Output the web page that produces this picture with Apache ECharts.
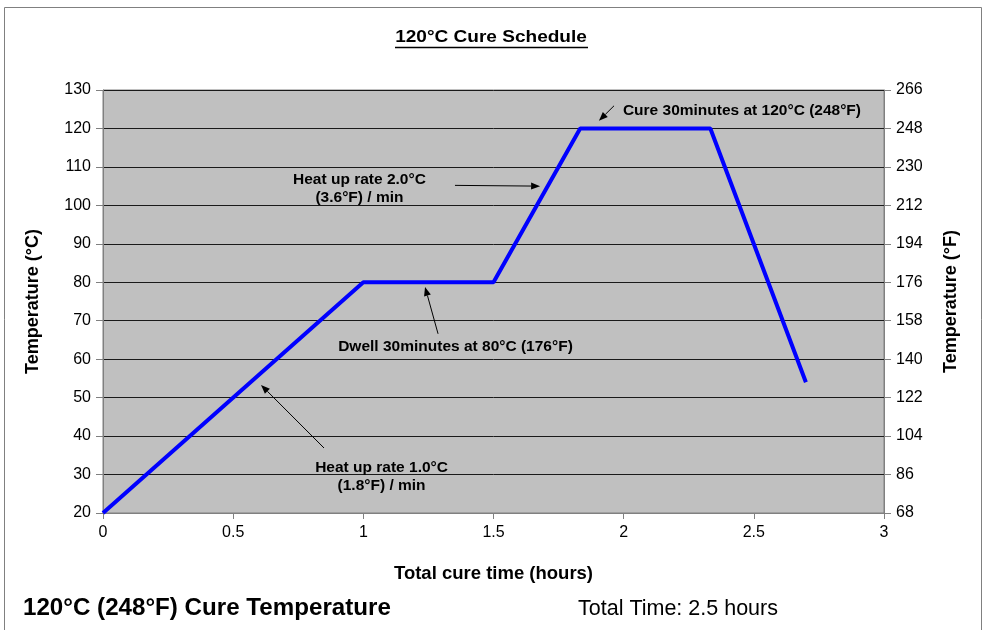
<!DOCTYPE html>
<html><head><meta charset="utf-8">
<script src="https://cdn.jsdelivr.net/npm/echarts@6/dist/echarts.min.js"></script>
<style>html,body{margin:0;padding:0;background:#fff}#c{width:987px;height:630px}</style>
</head><body><div id="c"></div>
<script>
// Data
const timeHours = [0, 1, 1.5, 1.833, 2.333, 2.7];
const tempC     = [20, 80, 80, 120, 120, 54];
const xTicks = [0, 0.5, 1, 1.5, 2, 2.5, 3];
const yTicksC = [20, 30, 40, 50, 60, 70, 80, 90, 100, 110, 120, 130];
// annotations in data units
const notes = [
  {text: 'Heat up rate 2.0°C\n(3.6°F) / min', at: [0.985, 104.4], align: 'center', from: [1.352, 105.2], to: [1.679, 105.0]},
  {text: 'Cure 30minutes at 120°C (248°F)', at: [1.997, 124.6], align: 'left', from: [1.963, 125.9], to: [1.905, 122.0]},
  {text: 'Dwell 30minutes at 80°C (176°F)', at: [1.354, 63.2], align: 'center', from: [1.287, 66.6], to: [1.237, 78.8]},
  {text: 'Heat up rate 1.0°C\n(1.8°F) / min', at: [1.070, 29.4], align: 'center', from: [0.849, 36.9], to: [0.607, 53.3]}
];
const SANS = '"Liberation Sans", Arial, sans-serif';

const chart = echarts.init(document.getElementById('c'), null, {renderer: 'canvas'});
const option = {
  animation: false,
  backgroundColor: '#fff',
  grid: {left: 103, right: 103, top: 90, bottom: 117, show: true, backgroundColor: '#C0C0C0', borderColor: '#808080', borderWidth: 1},
  xAxis: {
    type: 'value', min: 0, max: 3, interval: 0.5,
    name: 'Total cure time (hours)', nameLocation: 'middle', nameGap: 51,
    nameTextStyle: {fontFamily: SANS, fontWeight: 'bold', fontSize: 18.5, color: '#000'},
    axisLine: {show: true, lineStyle: {color: '#808080', width: 1}},
    axisTick: {show: true, length: 6, lineStyle: {color: '#808080'}},
    axisLabel: {fontFamily: SANS, fontSize: 16, color: '#000', margin: 12},
    splitLine: {show: false}
  },
  yAxis: [
    {
      type: 'value', min: 20, max: 130, interval: 10, position: 'left',
      name: 'Temperature (°C)', nameLocation: 'middle', nameGap: 61, nameRotate: 90,
      nameTextStyle: {fontFamily: SANS, fontWeight: 'bold', fontSize: 18, color: '#000'},
      axisLine: {show: true, lineStyle: {color: '#808080'}},
      axisTick: {show: true, length: 7, lineStyle: {color: '#808080'}},
      axisLabel: {fontFamily: SANS, fontSize: 16, color: '#000', margin: 12},
      splitLine: {show: true, lineStyle: {color: '#1a1a1a', width: 1}}
    },
    {
      type: 'value', min: 20, max: 130, interval: 10, position: 'right',
      name: 'Temperature (°F)', nameLocation: 'middle', nameGap: 58, nameRotate: 90,
      nameTextStyle: {fontFamily: SANS, fontWeight: 'bold', fontSize: 18, color: '#000'},
      axisLine: {show: true, lineStyle: {color: '#808080'}},
      axisTick: {show: true, length: 7, lineStyle: {color: '#808080'}},
      axisLabel: {fontFamily: SANS, fontSize: 16, color: '#000', margin: 12,
        formatter: v => String(Math.round(v * 1.8 + 32))},
      splitLine: {show: false}
    }
  ],
  series: [{
    type: 'line', yAxisIndex: 0, symbol: 'none',
    data: timeHours.map((t, i) => [t, tempC[i]]),
    lineStyle: {color: '#0000FF', width: 4}
  }]
};
chart.setOption(option);

const g = [];
// outer frame
g.push({type: 'rect', shape: {x: 4.5, y: 7.5, width: 977, height: 640}, style: {fill: 'none', stroke: '#808080', lineWidth: 1}, silent: true});
// title
g.push({type: 'text', x: 491, y: 37, scaleX: 1.12, style: {text: '120°C Cure Schedule', font: 'bold 17px ' + SANS, fill: '#000', align: 'center', verticalAlign: 'middle'}});
g.push({type: 'line', shape: {x1: 395, y1: 47.5, x2: 588, y2: 47.5}, style: {stroke: '#000', lineWidth: 1.5}});
// bottom texts
g.push({type: 'text', x: 23, y: 609, scaleX: 1.05, style: {text: '120°C (248°F) Cure Temperature', font: 'bold 23px ' + SANS, fill: '#000', align: 'left', verticalAlign: 'middle'}});
g.push({type: 'text', x: 578, y: 609, style: {text: 'Total Time: 2.5 hours', font: '21.5px ' + SANS, fill: '#000', align: 'left', verticalAlign: 'middle'}});

notes.forEach(n => {
  const p = chart.convertToPixel({gridIndex: 0}, n.at);
  g.push({type: 'text', x: p[0], y: p[1], style: {text: n.text, font: 'bold 15.5px ' + SANS, fill: '#000', align: n.align, verticalAlign: 'middle', lineHeight: 18}});
  const a = chart.convertToPixel({gridIndex: 0}, n.from);
  const b = chart.convertToPixel({gridIndex: 0}, n.to);
  const ang = Math.atan2(b[1] - a[1], b[0] - a[0]);
  const L = 9, W = 3.5;
  const bx = b[0] - L * Math.cos(ang), by = b[1] - L * Math.sin(ang);
  g.push({type: 'line', shape: {x1: a[0], y1: a[1], x2: bx, y2: by}, style: {stroke: '#000', lineWidth: 1}});
  g.push({type: 'polygon', shape: {points: [
    [b[0], b[1]],
    [bx + W * Math.sin(ang), by - W * Math.cos(ang)],
    [bx - W * Math.sin(ang), by + W * Math.cos(ang)]
  ]}, style: {fill: '#000'}});
});
chart.setOption({graphic: g});
</script></body></html>
